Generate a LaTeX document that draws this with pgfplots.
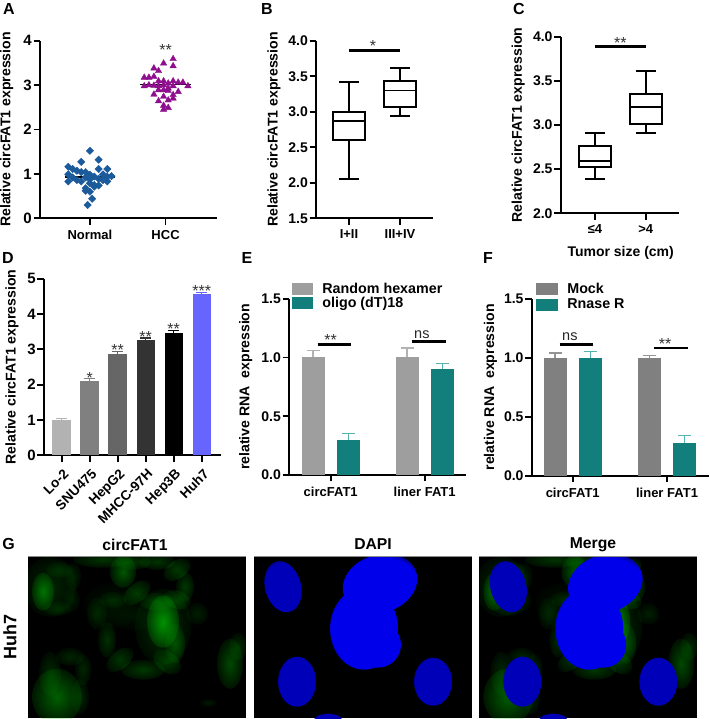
\documentclass[border=0pt]{standalone}
\usepackage{fontspec}
\setmainfont{Liberation Sans}
\usepackage{pgfplots}
\pgfplotsset{compat=1.18}
\usepgfplotslibrary{statistics}
\usetikzlibrary{fadings}
\newcommand{\fs}[1]{\fontsize{#1}{#1}\selectfont}
\definecolor{teal1}{HTML}{127F7C}
\definecolor{teal2}{HTML}{52B3B0}
\definecolor{diam}{HTML}{1B5A9B}
\definecolor{purp}{HTML}{8E0E8E}
\pgfplotsset{
 panel/.style={scale only axis, anchor=south west, clip=false,
  axis x line=bottom, axis y line=left,
  axis line style={-, line width=1.8pt, black},
  tick style={line width=1.8pt, black},
  major tick length=6.5pt, tick align=outside,
  minor tick num=0,
  boxplot/draw direction=y,
  tick label style={inner sep=1.5pt},
  /pgf/number format/assume math mode=true,
  yticklabel style={font=\bfseries\fs{14}},
  xticklabel style={font=\bfseries\fs{13}, yshift=-3.5pt},
 },
 ylab/.style={ylabel style={font=\bfseries\fs{14.1}, anchor=center, rotate=0, at={(axis description cs:#1,0.5)}}},
 swatch/.style={legend image code/.code={\fill[##1] (0pt,-6.2pt) rectangle (21.7pt,6.2pt);}},
 box/.style={black, line width=1.8pt, solid},
 sig/.style={black, line width=2.6pt, forget plot},
}
\tikzset{star/.style={anchor=base, yshift=-8pt, font=\fs{16}, text=black!80, inner sep=0pt}}
% one bar with its error bar: x, y, err, fill, err colour, bar width, cap half width
\newcommand{\ebar}[7]{\addplot[ybar, bar shift=0pt, bar width=#6pt, fill=#4, draw=none, swatch,
  error bars/.cd, y dir=plus, y explicit,
  error bar style={color=#5, line width=1.2pt},
  error mark options={rotate=90, color=#5, mark size=#7pt, line width=1.2pt}]
  coordinates {(#1,#2) +- (0,#3)};}
% soft patches for the micrographs
\pgfdeclareradialshading{softs}{\pgfpointorigin}{color(0bp)=(pgftransparent!0); color(33bp)=(pgftransparent!100); color(50bp)=(pgftransparent!100)}
\pgfdeclarefading{soft}{\pgfuseshading{softs}}
\pgfdeclareradialshading{nucs}{\pgfpointorigin}{color(0bp)=(pgftransparent!0); color(24bp)=(pgftransparent!0); color(33bp)=(pgftransparent!100); color(50bp)=(pgftransparent!100)}
\pgfdeclarefading{nuc}{\pgfuseshading{nucs}}
\newcommand{\blob}[6]{\fill[green!68!black, opacity=#6, path fading=soft, rotate around={#5:(#1,#2)}] (#1,#2) ellipse [x radius=#3, y radius=#4];}
\newcommand{\nucl}[6]{\fill[#6, path fading=nuc, rotate around={#5:(#1,#2)}] (#1,#2) ellipse [x radius=#3, y radius=#4];}
\colorlet{nucA}{blue!92!black}
\colorlet{nucB}{blue!72!black}
\newcommand{\greens}{%
 \blob{22}{30}{26}{30}{0}{.22}\blob{15}{35}{11}{19}{0}{.6}\blob{32}{13}{14}{8}{0}{.2}\blob{45}{20}{8}{14}{0}{.18}\blob{44}{43}{8}{12}{0}{.15}\blob{30}{52}{14}{7}{0}{.2}
 \blob{95}{15}{13}{16}{0}{.5}\blob{75}{3}{30}{8}{0}{.3}
 \blob{109}{36}{16}{9}{40}{.33}\blob{129}{45}{17}{9}{0}{.33}\blob{149}{43}{14}{9}{-20}{.33}\blob{157}{30}{9}{15}{0}{.33}
 \blob{149}{13}{15}{9}{35}{.33}\blob{129}{5}{18}{8}{0}{.3}\blob{105}{5}{18}{8}{0}{.3}
 \blob{85}{48}{30}{22}{0}{.1}\blob{105}{60}{28}{14}{0}{.08}
 \blob{135}{70}{28}{38}{0}{.25}\blob{135}{65}{16}{26}{0}{.8}\blob{169}{57}{11}{11}{0}{.18}
 \blob{147}{87}{10}{20}{0}{.4}\blob{139}{105}{16}{10}{-40}{.33}\blob{115}{113}{22}{10}{0}{.33}
 \blob{92}{103}{16}{9}{40}{.3}\blob{79}{83}{9}{18}{0}{.28}\blob{69}{57}{10}{16}{0}{.2}\blob{85}{43}{14}{8}{0}{.2}
 \blob{29}{140}{25}{28}{0}{.55}\blob{22}{117}{11}{22}{0}{.25}\blob{42}{100}{14}{9}{0}{.22}\blob{55}{113}{8}{16}{0}{.22}\blob{52}{140}{9}{18}{0}{.2}
 \blob{202}{107}{13}{25}{0}{.42}\blob{210}{90}{9}{14}{0}{.25}\blob{180}{146}{8}{4}{0}{.15}}
\newcommand{\blues}{%
 \nucl{29}{30}{18}{26}{15}{nucB}
 \nucl{126}{27}{38}{29}{18}{nucA}\nucl{110}{72}{34}{41}{0}{nucA}\nucl{124}{88}{23}{23}{0}{nucA}
 \nucl{43}{125}{19}{25}{0}{nucB}\nucl{179}{125}{19}{24}{0}{nucB}\nucl{74}{163}{14}{6}{0}{nucB}}
\begin{document}
\begin{tikzpicture}[x=1pt,y=1pt]
\useasboundingbox (0,0) rectangle (709,719);

% ---------- A
\begin{axis}[panel, ylab=-0.188, at={(40pt,500.7pt)}, width=177pt, height=177.6pt,
 xmin=0.34, xmax=2.68, ymin=0, ymax=4, xtick={1,2}, xticklabels={Normal,HCC},
 ytick={0,1,2,3,4}, yticklabel style={font=\bfseries\fs{15}},
 ylabel={Relative circFAT1 expression}]
\addplot[only marks, mark=square*, mark size=2.6pt, mark options={rotate=45, fill=diam, draw=diam}] coordinates {
(1.00,1.52)(1.115,1.32)(0.885,1.27)(1.23,1.11)(1.115,1.11)(0.714,1.16)(0.771,1.11)(0.828,1.07)
(0.885,1.04)(0.943,1.04)(1.00,0.98)(0.714,0.99)(1.057,0.94)(1.172,0.99)(1.286,0.95)(0.714,0.83)
(0.771,0.92)(0.828,0.86)(0.885,0.83)(0.943,0.92)(1.00,0.88)(1.115,0.89)(1.23,0.94)(1.057,0.75)
(1.172,0.86)(1.23,0.83)(1.115,0.74)(1.00,0.79)(0.943,0.68)(1.057,0.71)(1.00,0.60)(0.943,0.62)
(1.03,0.44)(0.97,0.30)};
\addplot[only marks, mark=triangle*, mark size=3.7pt, mark options={fill=purp, draw=purp}] coordinates {
(2.10,3.59)(1.974,3.49)(2.10,3.43)(1.846,3.38)(1.907,3.32)(1.718,3.17)(1.78,3.17)(1.846,3.19)
(1.907,3.09)(1.974,3.09)(2.10,3.09)(1.718,2.98)(1.78,3.00)(1.846,2.99)(2.035,3.04)(2.167,3.06)
(2.229,3.06)(2.295,2.98)(1.907,2.98)(1.974,3.00)(2.035,2.93)(2.10,2.98)(1.846,2.79)(1.907,2.89)
(1.974,2.89)(2.035,2.87)(2.167,2.85)(2.10,2.78)(1.974,2.74)(2.035,2.66)(2.10,2.70)(1.907,2.64)
(1.974,2.54)(1.974,2.45)(2.035,2.49)};
\addplot[black, line width=1.1pt] coordinates {(0.67,0.93)(1.33,0.93)};
\addplot[black, line width=1.1pt] coordinates {(1.66,3.01)(2.34,3.01)};
\node[star] at (axis cs:2,3.84) {**};
\end{axis}
\node[font=\bfseries\fs{16}] at (9,710) {A};

% ---------- B
\begin{axis}[panel, ylab=-0.36, at={(316pt,500.7pt)}, width=117pt, height=177.6pt,
 xmin=0.353, xmax=2.647, ymin=1.5, ymax=4, xtick={1,2}, xticklabels={I+II,III+IV},
 ytick={1.5,2,2.5,3,3.5,4}, yticklabel style={/pgf/number format/.cd, fixed, fixed zerofill, precision=1},
 ylabel={Relative circFAT1 expression}]
\addplot[box, boxplot prepared={draw position=1, lower whisker=2.05, lower quartile=2.6, median=2.87, upper quartile=3.0, upper whisker=3.42, box extend=0.63, whisker extend=0.39}] coordinates {};
\addplot[box, boxplot prepared={draw position=2, lower whisker=2.94, lower quartile=3.07, median=3.3, upper quartile=3.43, upper whisker=3.61, box extend=0.63, whisker extend=0.39}] coordinates {};
\addplot[sig] coordinates {(1,3.86)(2,3.86)};
\node[star] at (axis cs:1.47,3.96) {*};
\end{axis}
\node[font=\bfseries\fs{16}] at (267,710) {B};

% ---------- C
\begin{axis}[panel, ylab=-0.36, at={(560.7pt,505.7pt)}, width=118.3pt, height=176.6pt,
 xmin=0.323, xmax=2.657, ymin=2, ymax=4, xtick={1,2}, xticklabels={≤4,>4},
 ytick={2,2.5,3,3.5,4}, yticklabel style={/pgf/number format/.cd, fixed, fixed zerofill, precision=1},
 ylabel={Relative circFAT1 expression}]
\addplot[box, boxplot prepared={draw position=1, lower whisker=2.385, lower quartile=2.52, median=2.59, upper quartile=2.76, upper whisker=2.913, box extend=0.63, whisker extend=0.39}] coordinates {};
\addplot[box, boxplot prepared={draw position=2, lower whisker=2.905, lower quartile=3.015, median=3.2, upper quartile=3.35, upper whisker=3.61, box extend=0.63, whisker extend=0.39}] coordinates {};
\addplot[sig] coordinates {(1,3.887)(2,3.887)};
\node[star] at (axis cs:1.5,3.955) {**};
\end{axis}
\node[font=\bfseries\fs{14}] at (620.7,466) {Tumor size (cm)};
\node[font=\bfseries\fs{16}] at (519,710) {C};

% ---------- D
\begin{axis}[panel, ylab=-0.181, at={(44pt,263.7pt)}, width=176.7pt, height=176.6pt,
 xmin=-0.63, xmax=5.68, ymin=0, ymax=5, xtick={0,1,2,3,4,5},
 xticklabels={Lo-2,SNU475,HepG2,MHCC-97H,Hep3B,Huh7},
 xticklabel style={rotate=45, anchor=north east, font=\bfseries\fs{13.6}, inner sep=0pt, xshift=-1pt, yshift=-2.5pt},
 ytick={0,1,2,3,4,5}, yticklabel style={font=\bfseries\fs{15}},
 ylabel={Relative circFAT1 expression}]
\ebar{0}{1.00}{0.04}{black!30}{black!30}{18.3}{5.5}
\ebar{1}{2.10}{0.08}{black!50}{black!50}{18.3}{5.5}
\ebar{2}{2.86}{0.08}{black!60}{black!60}{18.3}{5.5}
\ebar{3}{3.27}{0.05}{black!80}{black!80}{18.3}{5.5}
\ebar{4}{3.47}{0.06}{black}{black}{18.3}{5.5}
\definecolor{hv}{HTML}{6666FF}
\ebar{5}{4.56}{0.06}{hv}{hv}{18.3}{5.5}
\node[star] at (axis cs:1,2.26) {*};
\node[star] at (axis cs:2,3.05) {**};
\node[star] at (axis cs:3,3.43) {**};
\node[star] at (axis cs:4,3.65) {**};
\node[star] at (axis cs:5,4.72) {***};
\end{axis}
\node[font=\bfseries\fs{16}] at (8,461) {D};

% ---------- E
\begin{axis}[panel, ylab=-0.245, at={(289pt,244pt)}, width=177pt, height=176.3pt,
 xmin=0.556, xmax=2.44, ymin=0, ymax=1.5, xtick={1,2}, xticklabels={circFAT1,liner FAT1},
 ytick={0,0.5,1,1.5}, yticklabel style={/pgf/number format/.cd, fixed, fixed zerofill, precision=1},
 ylabel={relative RNA\ \ expression},
 legend entries={Random hexamer,oligo (dT)18},
 legend style={at={(axis description cs:0.015,1.09)}, anchor=north west, draw=none, fill=none, inner sep=0pt, outer sep=0pt,
   font=\bfseries\fs{14.3}, row sep=1pt, nodes={inner sep=0.5pt}, cells={anchor=west}, column sep=8.5pt}]
\ebar{0.812}{1.00}{0.06}{black!38}{black!30}{23}{6.5}
\ebar{1.188}{0.30}{0.05}{teal1}{teal2}{23}{6.5}
\ebar{1.812}{1.00}{0.08}{black!38}{black!30}{23}{6.5}
\ebar{2.188}{0.90}{0.05}{teal1}{teal2}{23}{6.5}
\addplot[sig] coordinates {(0.86,1.11)(1.22,1.11)};
\addplot[sig] coordinates {(1.86,1.134)(2.23,1.134)};
\node[star] at (axis cs:1,1.17) {**};
\node[font=\fs{14.5}, text=black!85] at (axis cs:1.97,1.19) {ns};
\end{axis}
\node[font=\bfseries\fs{16}] at (247,461) {E};

% ---------- F
\begin{axis}[panel, ylab=-0.232, at={(531.7pt,243pt)}, width=177.3pt, height=177.3pt,
 xmin=0.565, xmax=2.445, ymin=0, ymax=1.5, xtick={1,2}, xticklabels={circFAT1,liner FAT1},
 ytick={0,0.5,1,1.5}, yticklabel style={/pgf/number format/.cd, fixed, fixed zerofill, precision=1},
 ylabel={relative RNA\ \ expression},
 legend entries={Mock,Rnase R},
 legend style={at={(axis description cs:0.025,1.09)}, anchor=north west, draw=none, fill=none, inner sep=0pt, outer sep=0pt,
   font=\bfseries\fs{14.3}, row sep=3pt, nodes={inner sep=0.5pt}, cells={anchor=west}, column sep=9pt}]
\ebar{0.812}{1.00}{0.04}{black!50}{black!42}{23}{6.5}
\ebar{1.188}{1.00}{0.05}{teal1}{teal2}{23}{6.5}
\ebar{1.812}{1.00}{0.02}{black!50}{black!42}{23}{6.5}
\ebar{2.188}{0.28}{0.06}{teal1}{teal2}{23}{6.5}
\addplot[sig] coordinates {(0.86,1.11)(1.22,1.11)};
\addplot[sig] coordinates {(1.86,1.083)(2.22,1.083)};
\node[font=\fs{14.5}, text=black!85] at (axis cs:0.97,1.175) {ns};
\node[star] at (axis cs:1.98,1.14) {**};
\end{axis}
\node[font=\bfseries\fs{16}] at (488,461) {F};

% ---------- G
\node[font=\bfseries\fs{16}] at (8.7,175) {G};
\node[font=\bfseries\fs{15.7}] at (135,174.5) {circFAT1};
\node[font=\bfseries\fs{15.7}] at (373,174.5) {DAPI};
\node[font=\bfseries\fs{15.7}] at (593,174.5) {Merge};
\node[font=\bfseries\fs{18}, rotate=90] at (10,82) {Huh7};
\begin{scope}[shift={(28,162.3)}, y=-1pt]
 \fill[black] (0,0) rectangle (217.7,161.7);
 \clip (0,0) rectangle (217.7,161.7);
 \greens
\end{scope}
\begin{scope}[shift={(254,162.3)}, y=-1pt]
 \fill[black] (0,0) rectangle (217.7,161.7);
 \clip (0,0) rectangle (217.7,161.7);
 \blues
\end{scope}
\begin{scope}[shift={(479.3,162.3)}, y=-1pt]
 \fill[black] (0,0) rectangle (217.5,161.7);
 \clip (0,0) rectangle (217.5,161.7);
 \greens\blues
\end{scope}
\draw[black!45, line width=.5pt] (28,162.3)--(245.7,162.3) (254,162.3)--(471.7,162.3) (479.3,162.3)--(696.8,162.3);
\end{tikzpicture}
\end{document}
